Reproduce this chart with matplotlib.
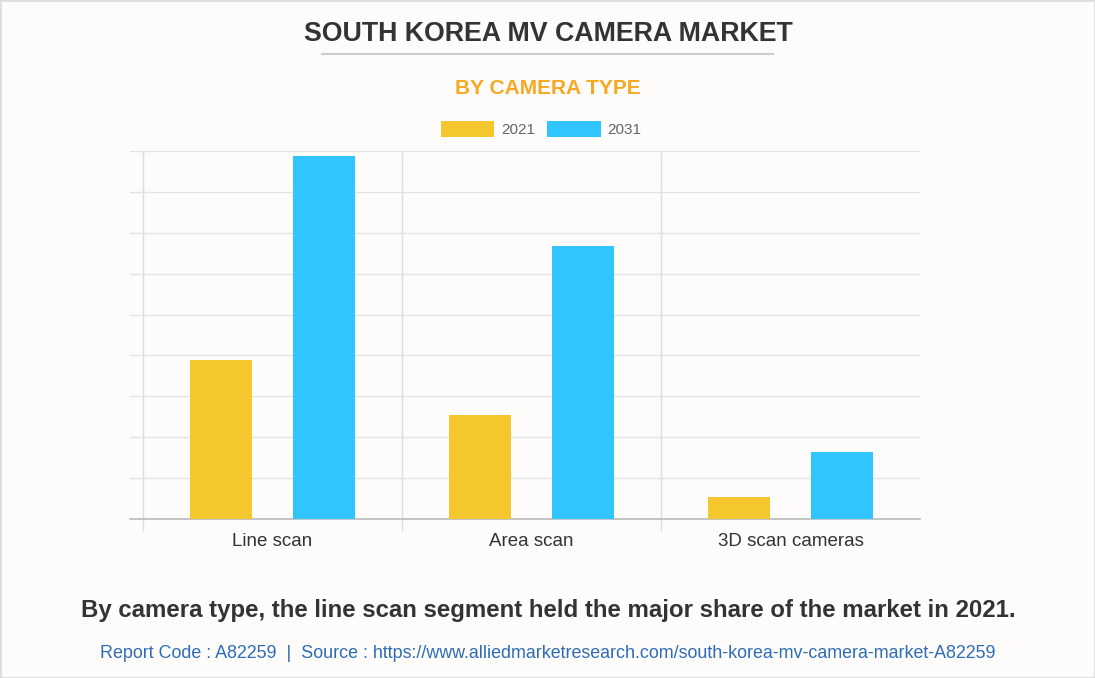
import numpy as np
import matplotlib.pyplot as plt
from matplotlib.patches import Patch, Rectangle
from matplotlib.lines import Line2D

# Chart data
categories = ['Line scan', 'Area scan', '3D scan cameras']
years = ['2021', '2031']
values_2021 = [3.89, 2.54, 0.53]
values_2031 = [8.88, 6.67, 1.65]

yellow = '#F4C72F'
blue = '#31C5FE'
bg = '#FDFCFB'

plt.rcParams['font.family'] = ['Liberation Sans', 'DejaVu Sans']

W, H = 1095, 678
fig = plt.figure(figsize=(W / 100, H / 100), dpi=100, facecolor=bg)

# thin frame around the whole picture
fig.patches.append(Rectangle((0, 0), 1, 1, transform=fig.transFigure,
                             fill=False, edgecolor='#dddddd', linewidth=2))

# titles
fig.text(548 / W, 1 - 34 / H, 'SOUTH KOREA MV CAMERA MARKET', ha='center', va='center',
         fontsize=19.3, fontweight='bold', color='#333333')
fig.add_artist(Line2D([322 / W, 773 / W], [1 - 54 / H, 1 - 54 / H], color='#cccccc', linewidth=1.5))
fig.text(548 / W, 1 - 89 / H, 'BY CAMERA TYPE', ha='center', va='center',
         fontsize=15, fontweight='bold', color='#F7A823')

# plot area
ax = fig.add_axes([130 / W, 1 - 519 / H, 790 / W, 368 / H])
ax.set_facecolor(bg)
x = np.arange(len(categories))
bw = 0.24
off = 0.2
ax.bar(x - off, values_2021, bw, color=yellow, label=years[0], zorder=3)
ax.bar(x + off, values_2031, bw, color=blue, label=years[1], zorder=3)

ax.set_xlim(-0.5 - 13 / 259, 2.5)
ax.set_ylim(0, 9)
ax.set_yticks(np.arange(1, 10))
ax.yaxis.grid(True, color='#e3e3e3', linewidth=1, zorder=0)
ax.tick_params(axis='y', length=0, labelleft=False)
ax.set_xticks(x)
ax.set_xticklabels(categories, fontsize=13.5, color='#333333')
ax.tick_params(axis='x', length=0, pad=10)
for s in ['top', 'right', 'left']:
    ax.spines[s].set_visible(False)
ax.spines['bottom'].set_color('#bbbbbb')
ax.spines['bottom'].set_linewidth(1.2)

# category separators, running a little below the axis
for b in [-0.5, 0.5, 1.5]:
    ax.plot([b, b], [-0.27, 9], color='#dddddd', linewidth=1, zorder=1, clip_on=False)

handles = [Patch(facecolor=yellow, label=years[0]), Patch(facecolor=blue, label=years[1])]
fig.legend(handles=handles, loc='center', bbox_to_anchor=(541 / W, 1 - 129 / H), ncol=2,
           frameon=False, fontsize=11, labelcolor='#666666', handlelength=3.5,
           handleheight=1.2, handletextpad=0.45, columnspacing=0.8)

# footer
fig.text(548 / W, 1 - 611 / H,
         'By camera type, the line scan segment held the major share of the market in 2021.',
         ha='center', va='center', fontsize=17.3, fontweight='bold', color='#333333')
fig.text(548 / W, 1 - 653 / H,
         'Report Code : A82259  |  Source : https://www.alliedmarketresearch.com/south-korea-mv-camera-market-A82259',
         ha='center', va='center', fontsize=12.9, color='#2E6DB4')

fig.savefig('out.png', dpi=100, facecolor=bg)
